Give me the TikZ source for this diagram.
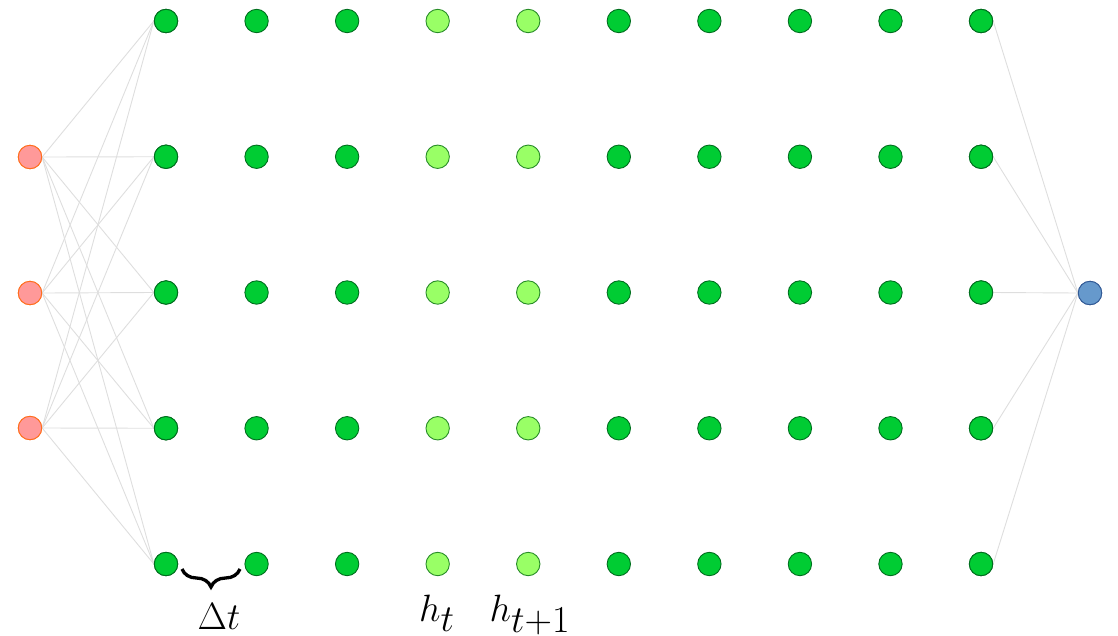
\documentclass[tikz,border=0pt]{standalone}
\usetikzlibrary{decorations.pathreplacing}
\definecolor{hgreen}{RGB}{0,204,51}
\definecolor{hgreenb}{RGB}{0,110,30}
\definecolor{lgreen}{RGB}{153,255,102}
\definecolor{lgreenb}{RGB}{40,140,40}
\definecolor{inred}{RGB}{255,153,153}
\definecolor{inredb}{RGB}{255,110,30}
\definecolor{outblue}{RGB}{102,153,204}
\definecolor{outblueb}{RGB}{50,90,150}
\definecolor{edgegray}{RGB}{222,222,222}
\begin{document}
\begin{tikzpicture}[x=1pt,y=-1pt,
  neuron/.style={circle,minimum size=23.4pt,inner sep=0pt,line width=0.9pt},
  hid/.style={neuron,fill=hgreen,draw=hgreenb},
  lhid/.style={neuron,fill=lgreen,draw=lgreenb},
  inp/.style={neuron,fill=inred,draw=inredb},
  outp/.style={neuron,fill=outblue,draw=outblueb},
  conn/.style={draw=edgegray,line width=0.9pt},
  lbl/.style={anchor=base,inner sep=0pt,font=\Huge,scale=1.53}]
\useasboundingbox (0,0) rectangle (1118,635);
% hidden layers
\foreach \c in {1,...,10}{
  \foreach \r in {1,...,5}{
    \pgfmathsetmacro{\xx}{166+(\c-1)*90.56}
    \pgfmathsetmacro{\yy}{21+(\r-1)*135.75}
    \ifnum\c=4
      \node[lhid] (h\c-\r) at (\xx,\yy) {};
    \else\ifnum\c=5
      \node[lhid] (h\c-\r) at (\xx,\yy) {};
    \else
      \node[hid] (h\c-\r) at (\xx,\yy) {};
    \fi\fi
  }
}
% inputs
\node[inp] (i1) at (30,157) {};
\node[inp] (i2) at (30,293) {};
\node[inp] (i3) at (30,428) {};
% output
\node[outp] (o) at (1090,293) {};
% connections
\foreach \i in {1,2,3}{
  \foreach \r in {1,...,5}{
    \draw[conn] (i\i.east) -- (h1-\r.west);
  }
}
\foreach \r in {1,...,5}{
  \draw[conn] (h10-\r.east) -- (o.west);
}
% redraw the end nodes above the edges
\foreach \r in {1,...,5}{
  \pgfmathsetmacro{\yy}{21+(\r-1)*135.75}
  \node[hid] at (166,\yy) {};
  \node[hid] at (981,\yy) {};
}
\node[inp] at (30,157) {};
\node[inp] at (30,293) {};
\node[inp] at (30,428) {};
\node[outp] at (1090,293) {};
% brace
\coordinate (bl) at (182,569);
\coordinate (br) at (240,569);
\draw[decorate,decoration={brace,mirror,amplitude=18pt},line width=3.3pt] (bl) -- (br);
\node[lbl] (dt) at (219,629) {$\Delta t$};
\node[lbl] (ht) at (437,621) {$h_{\textstyle t}$};
\node[lbl] (ht1) at (530,621) {$h_{\textstyle t{+}1}$};
\end{tikzpicture}
\end{document}
